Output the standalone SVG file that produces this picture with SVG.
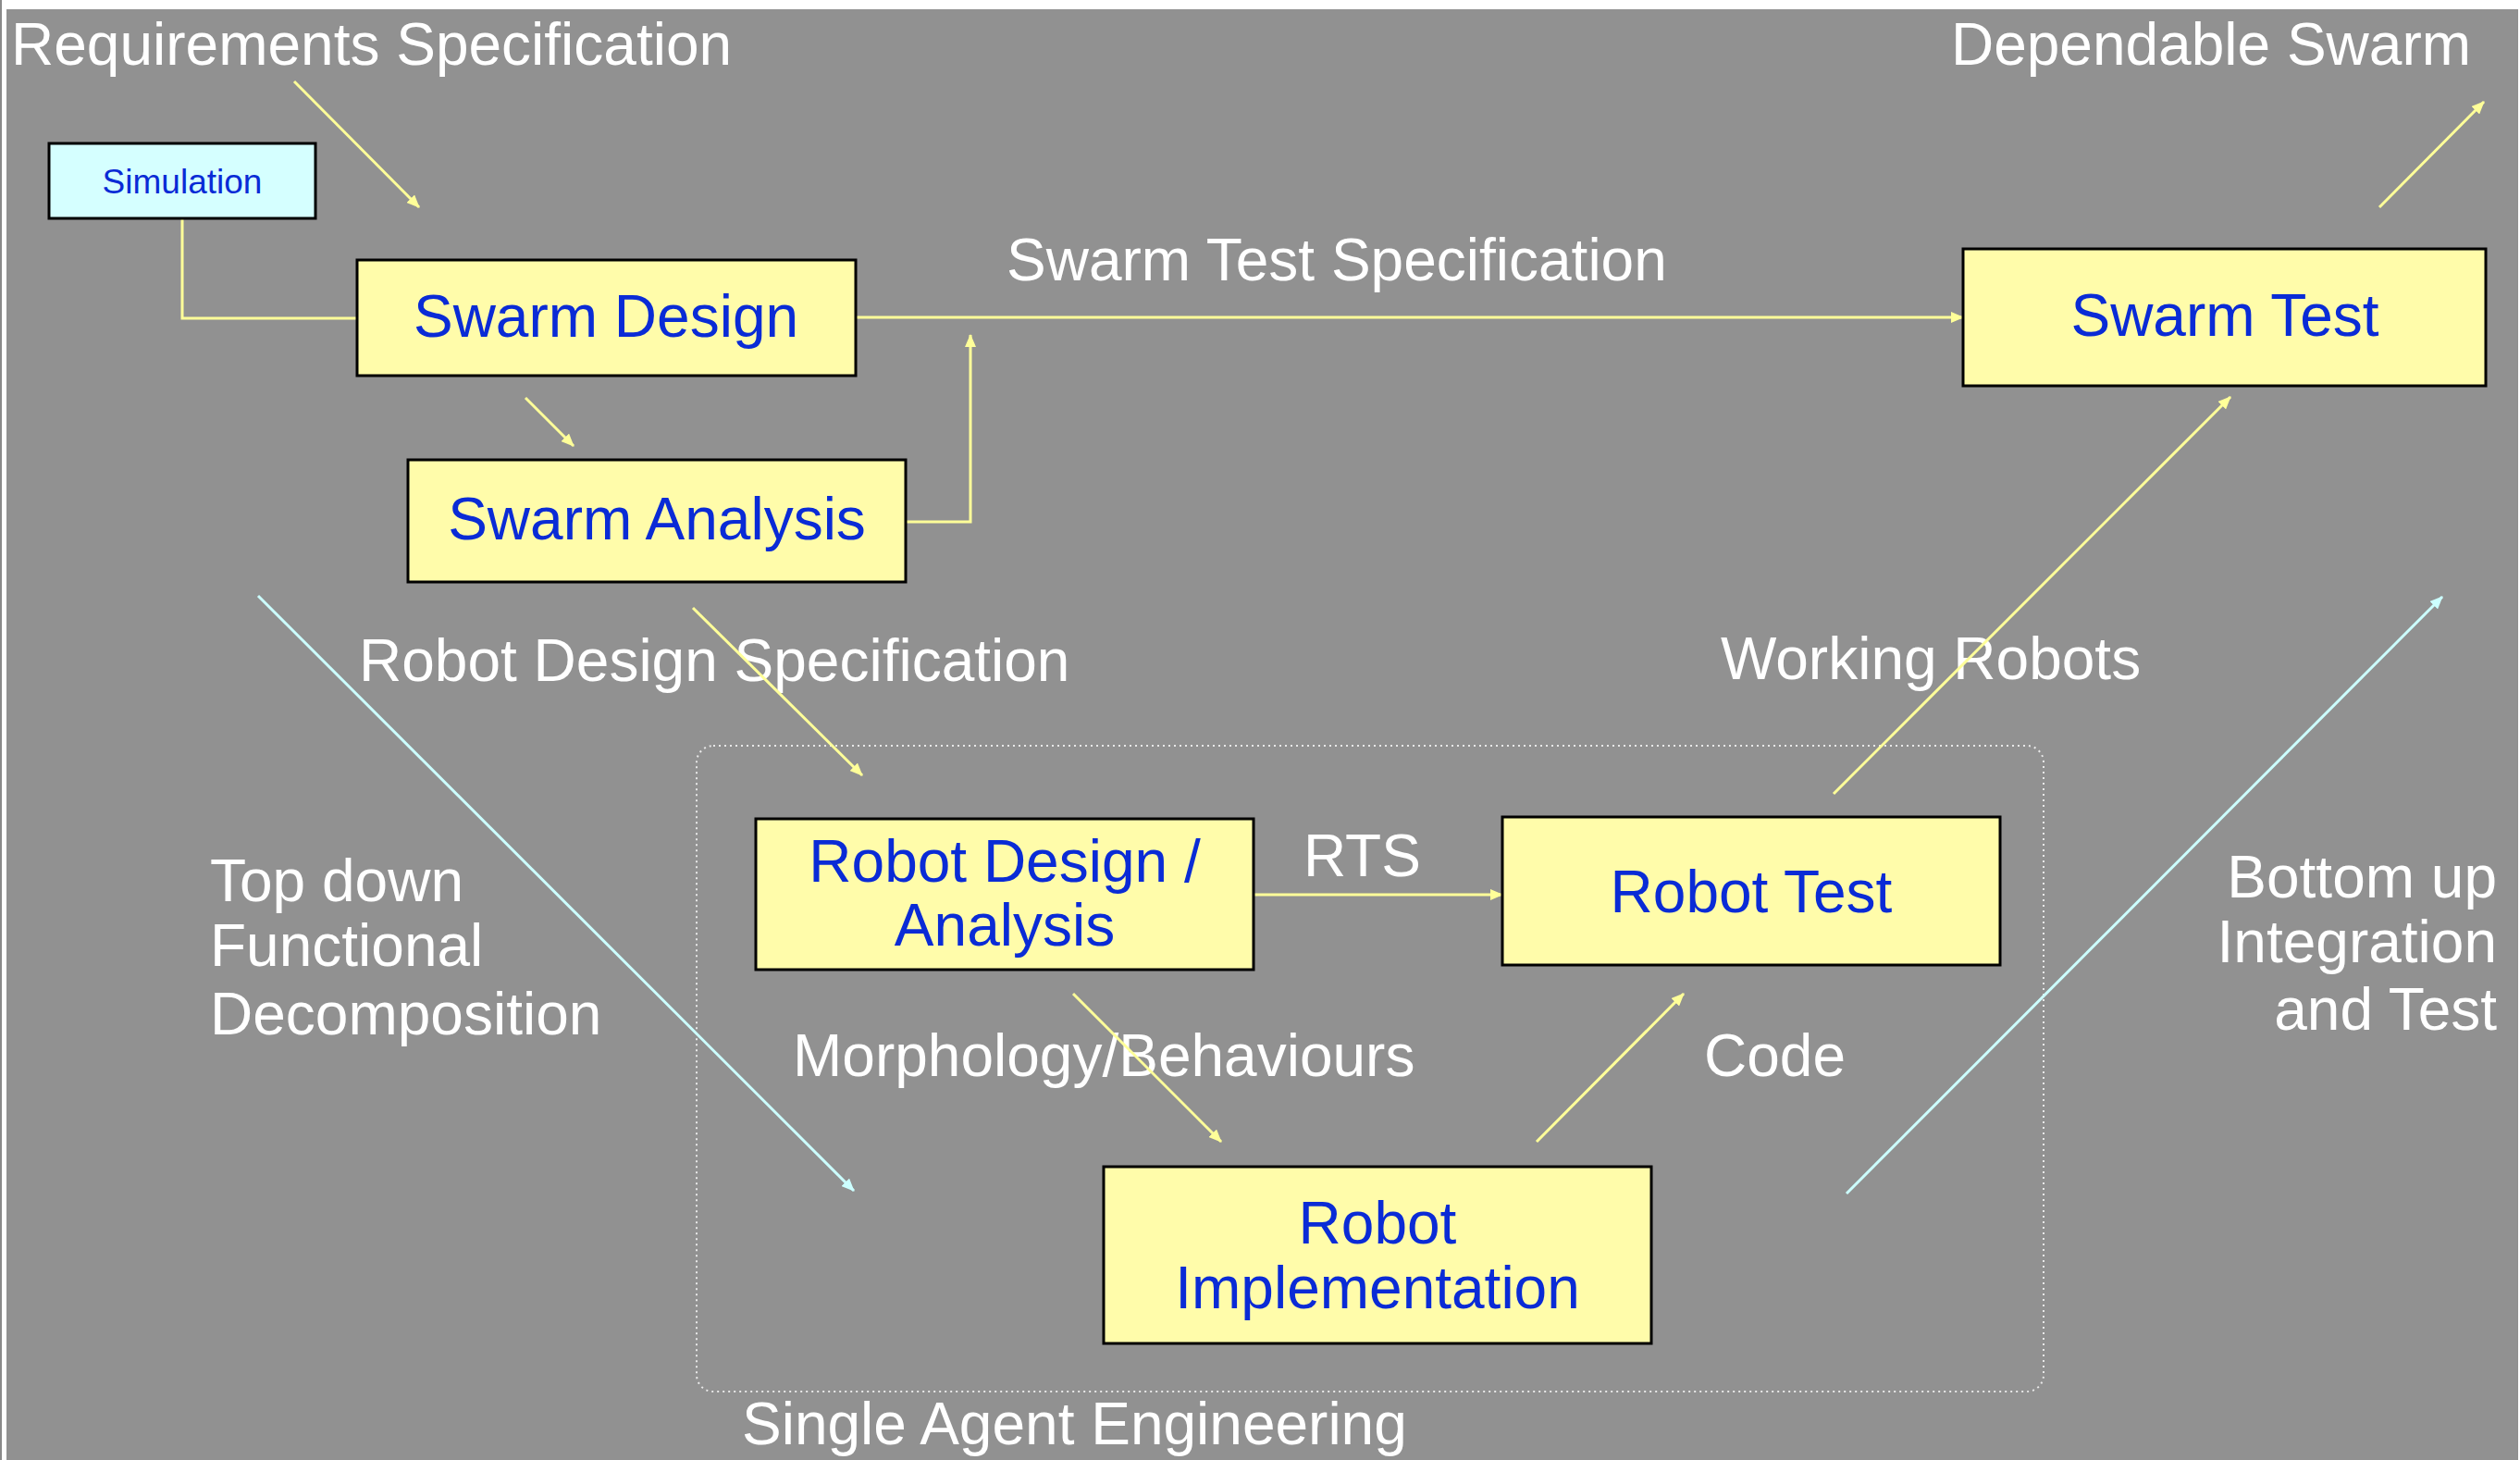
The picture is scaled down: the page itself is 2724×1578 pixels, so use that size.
<svg xmlns="http://www.w3.org/2000/svg" width="2724" height="1578" viewBox="0 0 2724 1578">
  <defs>
    <marker id="arrY" markerUnits="userSpaceOnUse" markerWidth="14" markerHeight="12" refX="13" refY="6" orient="auto">
      <path d="M0,0 L14,6 L0,12 z" fill="#FFFF99"/>
    </marker>
    <marker id="arrC" markerUnits="userSpaceOnUse" markerWidth="14" markerHeight="12" refX="13" refY="6" orient="auto">
      <path d="M0,0 L14,6 L0,12 z" fill="#CCFFFF"/>
    </marker>
    <style>
      .bg { fill: #919191; }
      .box { fill: #FFFCAA; stroke: #000; stroke-width: 3; }
      .sim { fill: #D5FFFF; stroke: #000; stroke-width: 3; }
      .lbl { font-family: "Liberation Sans", Arial, sans-serif; font-size: 64px; fill: #0A2BD6; text-anchor: middle; }
      .small { font-size: 37px; }
      .note { font-family: "Liberation Sans", Arial, sans-serif; font-size: 64px; fill: #FFFFFF; }
      .end { text-anchor: end; }
      .y { fill: none; stroke: #FFFF99; stroke-width: 3; marker-end: url(#arrY); }
      .yn { fill: none; stroke: #FFFF99; stroke-width: 3; }
      .c { fill: none; stroke: #CCFFFF; stroke-width: 3; marker-end: url(#arrC); }
      .group { fill: none; stroke: #E8E8E8; stroke-width: 2; stroke-dasharray: 2 4; }
    </style>
  </defs>

  <!-- page background with thin frame -->
  <rect x="0" y="0" width="2724" height="1578" fill="#FFFFFF"/>
  <rect class="bg" x="7" y="10" width="2715" height="1568"/>
  <rect x="0" y="0" width="2" height="1578" fill="#8A8A8A"/>

  <!-- single agent engineering boundary -->
  <rect class="group" x="753" y="806" width="1456" height="698" rx="18" ry="18"/>

  <!-- free labels -->
  <g id="labels">
    <text class="note" x="12" y="70">Requirements Specification</text>
    <text class="note end" x="2671" y="70">Dependable Swarm</text>
    <text class="note" x="1088" y="303">Swarm Test Specification</text>
    <text class="note" x="388" y="736">Robot Design Specification</text>
    <text class="note" x="1860" y="734">Working Robots</text>
    <text class="note" x="227" y="974">Top down</text>
    <text class="note" x="227" y="1044">Functional</text>
    <text class="note" x="227" y="1118">Decomposition</text>
    <text class="note end" x="2699" y="970">Bottom up</text>
    <text class="note end" x="2699" y="1040">Integration</text>
    <text class="note end" x="2699" y="1113">and Test</text>
    <text class="note" x="1409" y="947">RTS</text>
    <text class="note" x="857" y="1163">Morphology/Behaviours</text>
    <text class="note" x="1842" y="1163">Code</text>
    <text class="note" x="802" y="1561">Single Agent Engineering</text>
  </g>

  <!-- connectors -->
  <g id="connectors">
    <line class="y" x1="318" y1="88" x2="453" y2="224"/>
    <path class="yn" d="M197,237 V344 H386"/>
    <line class="y" x1="925" y1="343" x2="2122" y2="343"/>
    <line class="y" x1="568" y1="430" x2="620" y2="482"/>
    <path class="y" d="M979,564 H1049 V362"/>
    <line class="y" x1="2572" y1="224" x2="2685" y2="110"/>
    <line class="y" x1="749" y1="657" x2="932" y2="838"/>
    <line class="c" x1="279" y1="644" x2="923" y2="1287"/>
    <line class="y" x1="1355" y1="967" x2="1624" y2="967"/>
    <line class="y" x1="1160" y1="1074" x2="1320" y2="1234"/>
    <line class="y" x1="1661" y1="1234" x2="1820" y2="1074"/>
    <line class="y" x1="1982" y1="858" x2="2411" y2="429"/>
    <line class="c" x1="1996" y1="1290" x2="2640" y2="645"/>
  </g>

  <!-- nodes -->
  <g id="simulation">
    <rect class="sim" x="53" y="155" width="288" height="81"/>
    <text class="lbl small" x="197" y="209">Simulation</text>
  </g>
  <g id="swarm-design">
    <rect class="box" x="386" y="281" width="539" height="125"/>
    <text class="lbl" x="655" y="364">Swarm Design</text>
  </g>
  <g id="swarm-analysis">
    <rect class="box" x="441" y="497" width="538" height="132"/>
    <text class="lbl" x="710" y="583">Swarm Analysis</text>
  </g>
  <g id="swarm-test">
    <rect class="box" x="2122" y="269" width="565" height="148"/>
    <text class="lbl" x="2405" y="363">Swarm Test</text>
  </g>
  <g id="robot-design">
    <rect class="box" x="817" y="885" width="538" height="163"/>
    <text class="lbl" x="1086" y="953">Robot Design /</text>
    <text class="lbl" x="1086" y="1022">Analysis</text>
  </g>
  <g id="robot-test">
    <rect class="box" x="1624" y="883" width="538" height="160"/>
    <text class="lbl" x="1893" y="986">Robot Test</text>
  </g>
  <g id="robot-implementation">
    <rect class="box" x="1193" y="1261" width="592" height="191"/>
    <text class="lbl" x="1489" y="1344">Robot</text>
    <text class="lbl" x="1489" y="1414">Implementation</text>
  </g>
</svg>
